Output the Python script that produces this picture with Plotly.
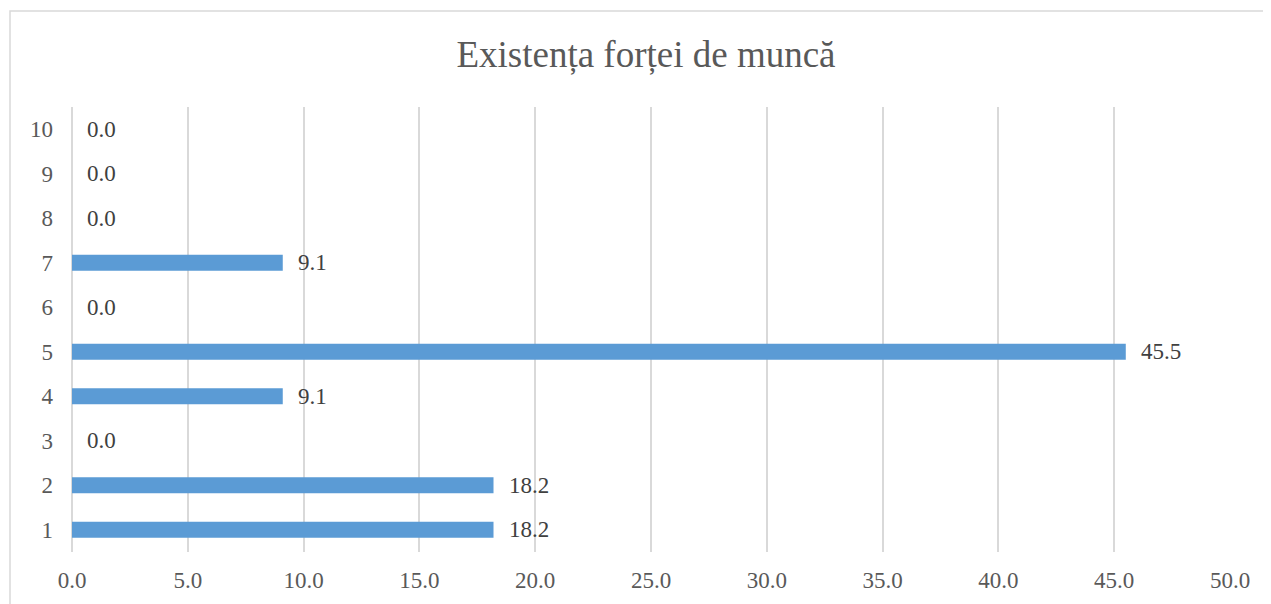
import plotly.graph_objects as go

categories = ["1", "2", "3", "4", "5", "6", "7", "8", "9", "10"]
values = [18.2, 18.2, 0.0, 9.1, 45.5, 0.0, 9.1, 0.0, 0.0, 0.0]
x_ticks = [0, 5, 10, 15, 20, 25, 30, 35, 40, 45, 50]
title_text = "Existența forței de muncă"

# page body has an 8px default margin; figure is sized to fit the window
OFF = 8
W, H = 1271 - OFF, 604 - OFF
L, R, T, B = 72 - OFF, 41, 107 - OFF, 52
pw, ph = W - L - R, H - T - B

def px_to_paper_x(px):
    return (px - OFF - L) / pw

def px_to_paper_y(py):
    return (H - B - (py - OFF)) / ph

FONT = '"Liberation Serif", "Times New Roman", Times, serif'
TXT = "#595959"
GRID = "#D9D9D9"

fig = go.Figure()
fig.add_trace(go.Bar(
    x=values, y=categories, orientation="h",
    marker=dict(color="#5B9BD5", line=dict(width=0)),
    width=0.36, hoverinfo="x+y",
))

for i, v in enumerate(values):
    fig.add_annotation(x=v, y=i, xref="x", yref="y", text=f"{v:.1f}",
                       showarrow=False, xanchor="left", yanchor="middle",
                       xshift=13, font=dict(family=FONT, size=23, color="#404040"))

fig.add_shape(type="rect", xref="paper", yref="paper",
              x0=px_to_paper_x(10), x1=px_to_paper_x(1276),
              y0=px_to_paper_y(612), y1=px_to_paper_y(11),
              line=dict(color=GRID, width=1.5), layer="below")

fig.update_layout(
    width=W, height=H,
    margin=dict(l=L, r=R, t=T, b=B, autoexpand=False),
    paper_bgcolor="white", plot_bgcolor="white",
    showlegend=False,
    title=dict(text=title_text, x=(646 - OFF) / W, xanchor="center",
               y=1 - (54 - OFF) / H, yanchor="middle",
               font=dict(family=FONT, size=37, color=TXT)),
    xaxis=dict(range=[0, 50], tickvals=x_ticks, tickformat=".1f",
               showgrid=True, gridcolor=GRID, gridwidth=1.5,
               zeroline=True, zerolinecolor=GRID, zerolinewidth=1.5,
               showline=False, ticks="", ticklabelstandoff=12, automargin=False,
               tickfont=dict(family=FONT, size=23, color=TXT), fixedrange=True),
    yaxis=dict(type="category", categoryorder="array", categoryarray=categories,
               range=[-0.5, len(categories) - 0.5], automargin=False,
               showgrid=False, zeroline=False, showline=False, ticks="",
               ticklabelstandoff=18,
               tickfont=dict(family=FONT, size=23, color=TXT), fixedrange=True),
    font=dict(family=FONT),
)

fig.write_html("out.html")
